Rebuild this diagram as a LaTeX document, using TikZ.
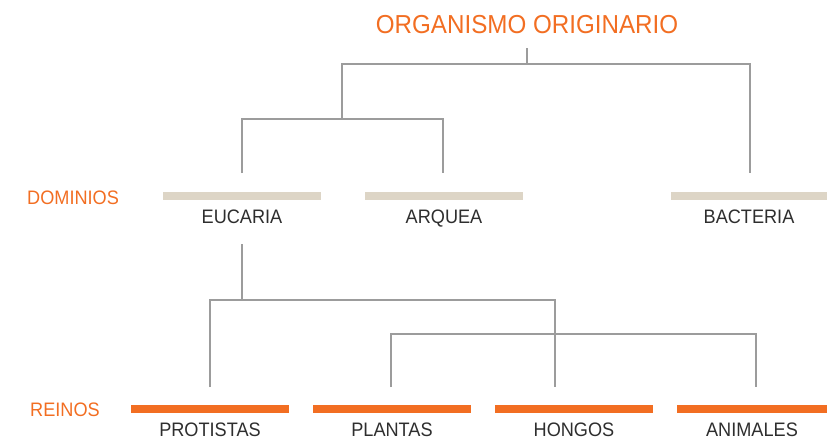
\documentclass[tikz,border=0pt]{standalone}
\usepackage{fontspec}
\setmainfont{Liberation Sans}[FakeStretch=0.93]
\usepackage{xcolor}
\usepackage{tikz}
\usetikzlibrary{positioning,calc}
\definecolor{naranja}{HTML}{F26E22}
\definecolor{beige}{HTML}{DDD5C6}
\definecolor{gris}{HTML}{9C9C9C}
\definecolor{texto}{HTML}{2E2E2E}

\begin{document}
\begin{tikzpicture}[x=1pt, y=-1pt,
    link/.style={draw=gris, line width=1.3pt},
    dombar/.style={fill=beige, inner sep=0, minimum width=158pt, minimum height=8pt},
    reibar/.style={fill=naranja, inner sep=0, minimum width=158pt, minimum height=8pt},
    taxon/.style={inner sep=0, text=texto, font=\fontsize{19.5}{20}\selectfont},
    side/.style={inner sep=0, anchor=west, text=naranja, font=\fontsize{19.5}{20}\selectfont}]
    \useasboundingbox (0,0) rectangle (827,440);

    % Origin
    \node [inner sep=0, text=naranja, font=\fontsize{26}{27}\selectfont] (org) at (527,25) {ORGANISMO ORIGINARIO};

    % Domains
    \node [side] (dom) at (27,197.5) {DOMINIOS};
    \node [dombar] (bEuc) at (242,196) {};
    \node [dombar] (bArq) at (444,196) {};
    \node [dombar, minimum width=156pt] (bBac) at (749,196) {};
    \node [taxon, below=9pt of bEuc] (euc) {EUCARIA};
    \node [taxon, below=9pt of bArq] (arq) {ARQUEA};
    \node [taxon, below=9pt of bBac] (bac) {BACTERIA};

    % Kingdoms
    \node [side] (rei) at (30,410) {REINOS};
    \node [reibar] (bPro) at (210,409) {};
    \node [reibar] (bPla) at (392,409) {};
    \node [reibar] (bHon) at (574,409) {};
    \node [reibar, minimum width=150pt] (bAni) at (752,409) {};
    \node [taxon, below=9pt of bPro] (pro) {PROTISTAS};
    \node [taxon, below=9pt of bPla] (pla) {PLANTAS};
    \node [taxon, below=9pt of bHon] (hon) {HONGOS};
    \node [taxon, below=9pt of bAni] (ani) {ANIMALES};

    % Branch points and line ends
    \coordinate (orgT) at (527,48);
    \coordinate (j0) at (527,64);
    \coordinate (j1) at (342,119);
    \coordinate (eucT) at (242,173);
    \coordinate (arqT) at (443,173);
    \coordinate (bacT) at (750,173);
    \coordinate (eucB) at (242,244);
    \coordinate (j2) at (242,300);
    \coordinate (j3) at (391,334);
    \coordinate (proT) at (210,387);
    \coordinate (plaT) at (391,387);
    \coordinate (honT) at (555,387);
    \coordinate (aniT) at (756,387);

    % Tree of domains
    \draw [link] (orgT) -- (j0);
    \draw [link] (j1) |- (j0) -| (bacT);
    \draw [link] (eucT) |- (j1) -| (arqT);

    % Tree of kingdoms
    \draw [link] (eucB) -- (j2);
    \draw [link] (proT) |- (j2) -| (honT);
    \draw [link] (plaT) -- (j3) -| (aniT);
\end{tikzpicture}
\end{document}
